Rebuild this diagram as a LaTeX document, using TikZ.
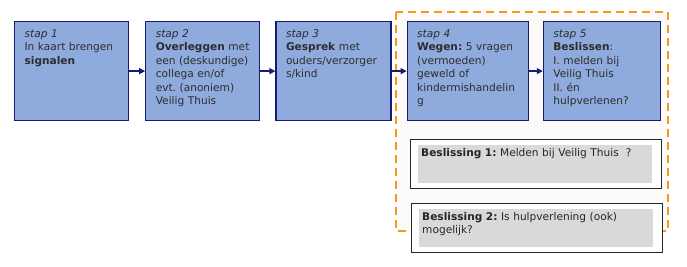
\documentclass[tikz,border=0pt]{standalone}
\usepackage{fontspec}
\setmainfont{DejaVu Sans}
\usetikzlibrary{positioning,arrows.meta}
\definecolor{stapfill}{RGB}{143,170,220}
\definecolor{stapline}{RGB}{22,28,112}
\definecolor{kaderorange}{RGB}{247,152,30}
\definecolor{kaderfill}{RGB}{252,251,250}
\definecolor{keuzegrijs}{RGB}{217,217,217}
\definecolor{tekstgrijs}{RGB}{45,45,45}
\frenchspacing

\begin{document}
\begin{tikzpicture}[
x=1pt, y=-1pt,
node distance=15pt,
stap/.style={draw=stapline, line width=1.2pt, fill=stapfill, text width=#1, align=left, inner xsep=10pt, inner ysep=7pt, text height=9pt, text depth=76pt, text=tekstgrijs, font=\fontsize{10.6}{13.4}\selectfont},
stap/.default=94pt,
keuze/.style={draw=black!85, line width=1pt, fill=white, minimum width=251pt, minimum height=49pt, anchor=north west, inner sep=0pt},
keuzetekst/.style={fill=keuzegrijs, anchor=north west, text width=228pt, align=left, inner sep=3pt, text height=8pt, text depth=24pt, text=black!85, font=\fontsize{10.6}{13.4}\selectfont},
kader/.style={draw=kaderorange, fill=kaderfill, line width=2pt, dash pattern=on 8pt off 5pt},
arrow/.style={-{Triangle[length=6pt, width=6pt]}, line width=1.2pt, draw=stapline}
]
\useasboundingbox (0,0) rectangle (687,267);

% oranje kader rond stap 4 en 5
\draw[kader] (396,12) rectangle (668,231);

% de vijf stappen
\node[stap, anchor=north west] (s1) at (14,21) {\textit{stap 1}\\In kaart brengen\\\textbf{signalen}};
\node[stap, right=16pt of s1] (s2) {\textit{stap 2}\\\textbf{Overleggen} met\\een (deskundige)\\collega en/of\\evt. (anoniem)\\Veilig Thuis};
\node[stap=95pt, right=of s2] (s3) {\textit{stap 3}\\\textbf{Gesprek} met\\ouders/verzorger\\s/kind};
\node[stap=101pt, right=of s3] (s4) {\textit{stap 4}\\\textbf{Wegen:} 5 vragen\\(vermoeden)\\geweld of\\kindermishandelin\\g};
\node[stap=97pt, right=14pt of s4] (s5) {\textit{stap 5}\\\textbf{Beslissen}:\\I. melden bij\\Veilig Thuis\\II. én\\hulpverlenen?};

\draw[arrow] (s1) -- (s2);
\draw[arrow] (s2) -- (s3);
\draw[arrow] (s3) -- (s4);
\draw[arrow] (s4) -- (s5);

% beslissingen
\node[keuze] (k1) at (410,139) {};
\node[keuzetekst] (k1t) at ([shift={(8pt,-6pt)}]k1.north west) {\textbf{Beslissing 1:} Melden bij Veilig Thuis\ \ ?};
\node[keuze] (k2) at (411,203) {};
\node[keuzetekst] (k2t) at ([shift={(8pt,-6pt)}]k2.north west) {\textbf{Beslissing 2:} Is hulpverlening (ook)\\mogelijk?};
\end{tikzpicture}
\end{document}
